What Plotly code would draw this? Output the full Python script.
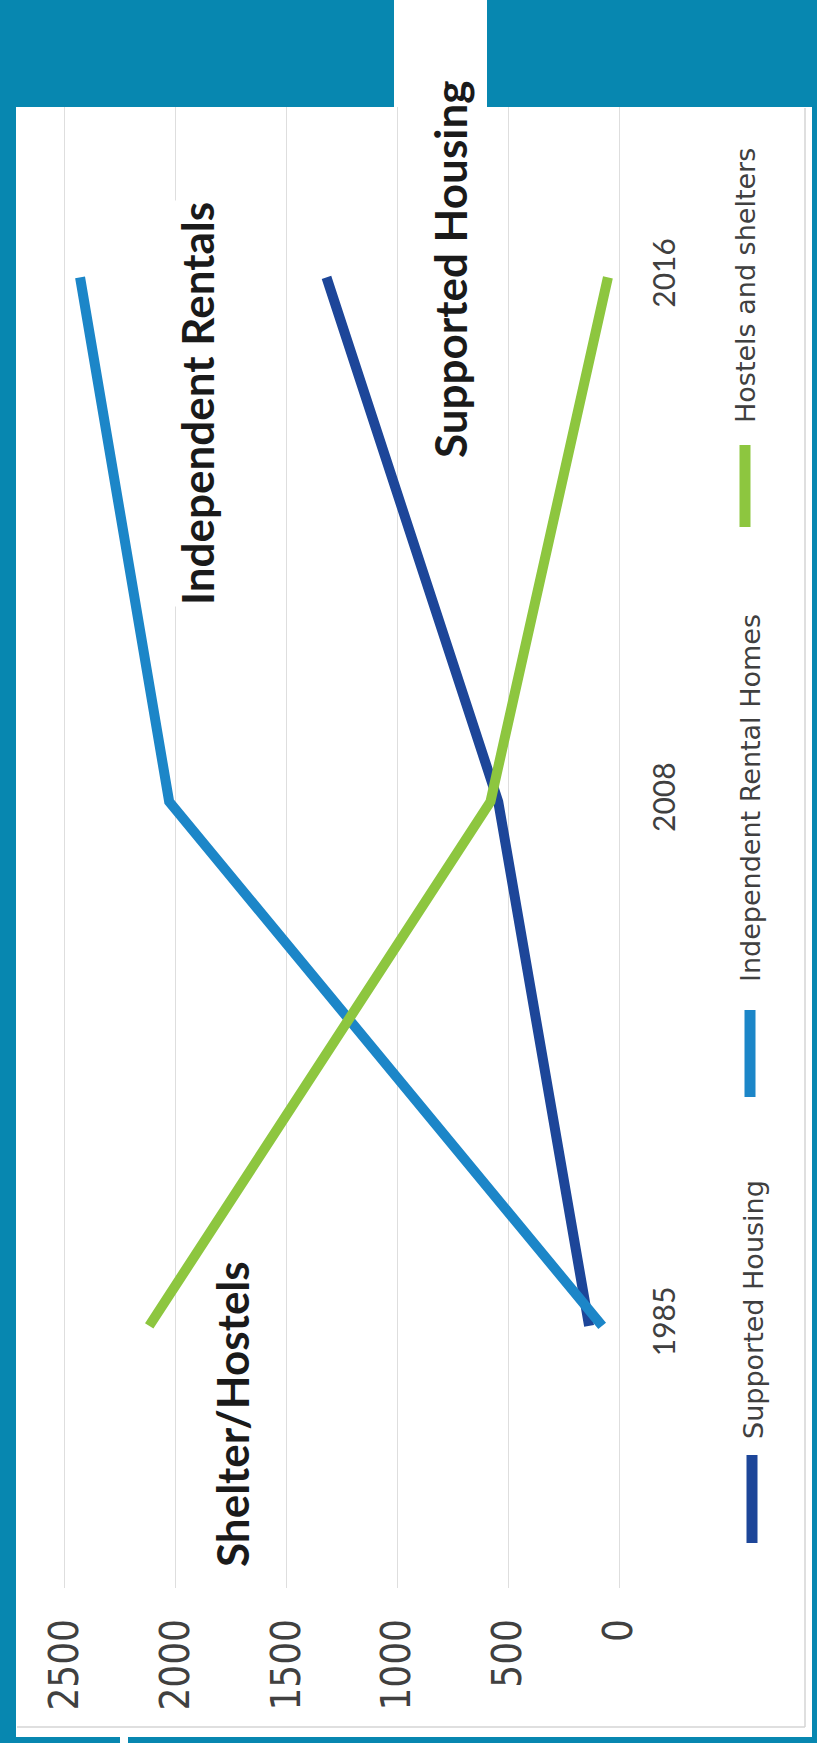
import plotly.graph_objects as go

# Housing units by type, three survey years
years = ["1985", "2008", "2016"]
supported_housing = [135, 545, 1320]
independent_rentals = [76, 2030, 2432]
hostels_shelters = [2120, 580, 50]

series_names = ["Supported Housing", "Independent Rental Homes", "Hostels and shelters"]
value_ticks = [0, 500, 1000, 1500, 2000, 2500]

W, H = 817, 1743
TEAL = "#0787B0"
GRID = "#DEDEDE"
C_SUP = "#1D4699"
C_IND = "#1C86C8"
C_HOS = "#8DC63F"

# plot area in page pixels
L, R, T, B = 65, 619, 107, 1588


def px(x):
    return (x - L) / (R - L)


def py(y):
    return (B - y) / (B - T)


fig = go.Figure()
for name, vals, col in [
    (series_names[0], supported_housing, C_SUP),
    (series_names[1], independent_rentals, C_IND),
    (series_names[2], hostels_shelters, C_HOS),
]:
    fig.add_trace(go.Scatter(
        x=vals, y=years, mode="lines", name=name,
        line=dict(color=col, width=10),
        showlegend=False,
    ))

shapes = [
    # white chart panel on the teal slide
    dict(type="rect", xref="paper", yref="paper", x0=px(16), x1=px(812), y0=py(107), y1=py(1737),
         fillcolor="white", line=dict(width=0), layer="below"),
    dict(type="rect", xref="paper", yref="paper", x0=px(394), x1=px(487), y0=py(0), y1=py(108),
         fillcolor="white", line=dict(width=0), layer="below"),
    dict(type="rect", xref="paper", yref="paper", x0=px(120), x1=px(128), y0=py(1736), y1=py(1743),
         fillcolor="white", line=dict(width=0), layer="below"),
    # chart frame
    dict(type="line", xref="paper", yref="paper", x0=px(805), x1=px(805), y0=py(108), y1=py(1727),
         line=dict(color="#D4D4D4", width=1.5), layer="below"),
    dict(type="line", xref="paper", yref="paper", x0=px(17), x1=px(805), y0=py(1727), y1=py(1727),
         line=dict(color="#D4D4D4", width=1.5), layer="below"),
]

# legend swatches
for (x, y0, y1), col in zip([(752, 1455, 1543), (750, 1010, 1097), (745, 445, 527)], [C_SUP, C_IND, C_HOS]):
    shapes.append(dict(type="line", xref="paper", yref="paper", x0=px(x), x1=px(x), y0=py(y0), y1=py(y1),
                       line=dict(color=col, width=11)))

annotations = []
# legend labels
for (x, y), text in zip([(753, 1310), (750, 798), (745, 286)], series_names):
    annotations.append(dict(
        text=text, xref="paper", yref="paper", x=px(x), y=py(y), xanchor="center", yanchor="middle",
        textangle=-90, showarrow=False, font=dict(family="DejaVu Sans", size=27, color="#404040"),
    ))

# series call-outs
for (x, y), text, bg in zip([(197, 404), (450, 270), (232, 1414)],
                            ["Independent Rentals", "Supported Housing", "Shelter/Hostels"],
                            ["white", "rgba(0,0,0,0)", "rgba(0,0,0,0)"]):
    annotations.append(dict(
        text=text, xref="paper", yref="paper", x=px(x), y=py(y), xanchor="center", yanchor="middle",
        textangle=-90, showarrow=False, bgcolor=bg,
        font=dict(family="Lato", size=44, color="#1A1A1A", weight=700),
    ))

fig.update_layout(
    width=W, height=H,
    margin=dict(l=L, r=W - R, t=T, b=H - B, pad=0),
    paper_bgcolor=TEAL,
    plot_bgcolor="rgba(0,0,0,0)",
    shapes=shapes,
    annotations=annotations,
    xaxis=dict(
        range=[2500, 0], tickvals=value_ticks, ticktext=[str(v) for v in value_ticks],
        showgrid=True, gridcolor=GRID, gridwidth=1.3, zeroline=False, showline=False,
        tickangle=-90, ticklabelstandoff=22,
        tickfont=dict(family="Liberation Sans Narrow, DejaVu Sans Condensed, Arial Narrow", size=40, color="#404040"),
    ),
    yaxis=dict(
        type="category", range=[-0.5, 2.325], side="right",
        showgrid=False, zeroline=False, showline=True, mirror=True, linecolor=GRID, linewidth=1.3,
        tickangle=-90, ticklabelstandoff=19,
        tickfont=dict(family="Lato", size=30, color="#404040"),
    ),
)

fig.write_html("out.html")
